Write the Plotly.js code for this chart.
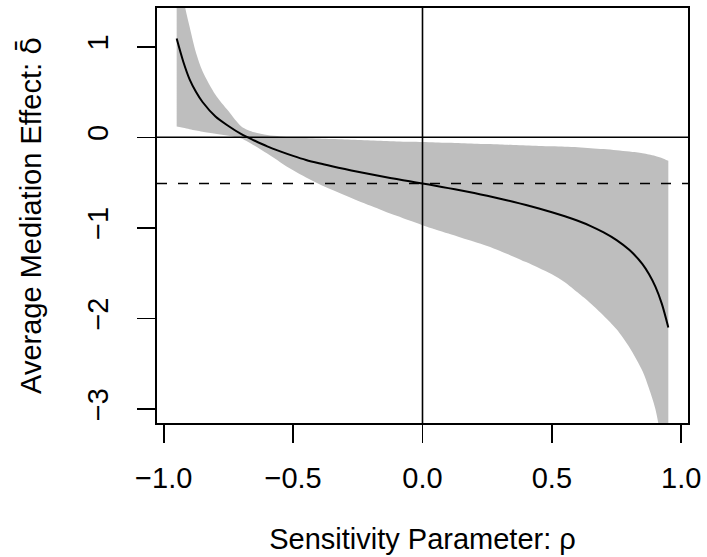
<!DOCTYPE html>
<html>
<head>
<meta charset="utf-8">
<script src="https://cdn.plot.ly/plotly-3.0.1.min.js"></script>
<style>html,body{margin:0;padding:0;background:#fff;}#plot{width:707px;height:557px;}</style>
</head>
<body>
<div id="plot"></div>
<script>
// Sensitivity parameter values
const rho = [-0.95,-0.925,-0.90,-0.875,-0.85,-0.80,-0.75,-0.70,-0.65,-0.60,-0.55,-0.50,-0.45,-0.40,-0.35,-0.30,-0.25,-0.20,-0.15,-0.10,-0.05,0.00,
             0.05,0.10,0.15,0.20,0.25,0.30,0.35,0.40,0.45,0.50,0.55,0.60,0.65,0.70,0.75,0.80,0.85,0.875,0.90,0.925,0.95];
// Average mediation effect estimate
const delta = [1.09,0.84,0.64,0.50,0.39,0.23,0.125,0.035,-0.035,-0.10,-0.155,-0.205,-0.25,-0.287,-0.32,-0.351,-0.381,-0.409,-0.436,-0.461,-0.486,-0.51,
               -0.535,-0.561,-0.588,-0.616,-0.646,-0.678,-0.712,-0.748,-0.786,-0.827,-0.872,-0.922,-0.98,-1.05,-1.135,-1.245,-1.40,-1.51,-1.65,-1.84,-2.10];
// Confidence band
const upper = [2.30,1.55,1.22,0.93,0.73,0.47,0.29,0.12,0.055,0.025,0.01,0.0,-0.007,-0.014,-0.02,-0.025,-0.03,-0.035,-0.04,-0.045,-0.05,-0.052,
               -0.056,-0.06,-0.065,-0.07,-0.075,-0.08,-0.085,-0.09,-0.095,-0.10,-0.105,-0.11,-0.12,-0.13,-0.143,-0.158,-0.177,-0.19,-0.206,-0.228,-0.26];
const lower = [0.12,0.105,0.09,0.075,0.062,0.04,0.018,-0.012,-0.09,-0.18,-0.275,-0.365,-0.445,-0.515,-0.58,-0.64,-0.70,-0.757,-0.813,-0.867,-0.92,-0.97,
               -1.018,-1.063,-1.108,-1.153,-1.20,-1.255,-1.315,-1.378,-1.443,-1.513,-1.60,-1.715,-1.835,-1.97,-2.12,-2.32,-2.58,-2.77,-3.00,-3.40,-4.20];
// Reference lines
const zeroLevel = 0;
const rhoZero = 0;
const estimateAtZero = -0.51;
// Tick labels
const xTicks = [-1.0,-0.5,0.0,0.5,1.0];
const xTickText = ["\u22121.0","\u22120.5","0.0","0.5","1.0"];
const yTicks = [1,0,-1,-2,-3];
const yTickText = ["1","0","\u22121","\u22122","\u22123"];

const font = {family: "Liberation Sans, Arial, Helvetica, sans-serif", size: 29, color: "#000"};

const traces = [
  {x: rho, y: lower, type: "scatter", mode: "lines", line: {width: 0, color: "rgba(0,0,0,0)", shape: "spline", smoothing: 0.8}, hoverinfo: "skip", showlegend: false},
  {x: rho, y: upper, type: "scatter", mode: "lines", fill: "tonexty", fillcolor: "#BEBEBE", line: {width: 0, color: "rgba(0,0,0,0)", shape: "spline", smoothing: 0.8}, hoverinfo: "skip", showlegend: false},
  {x: rho, y: delta, type: "scatter", mode: "lines", line: {width: 2, color: "#000", shape: "spline", smoothing: 0.8}, showlegend: false}
];

const lw = 1.6;
const layout = {
  width: 707, height: 557,
  margin: {l: 157, r: 19, t: 8, b: 134, pad: 0},
  paper_bgcolor: "#fff", plot_bgcolor: "#fff",
  font: font,
  showlegend: false,
  xaxis: {
    range: [-1.026, 1.026], tickvals: xTicks, ticktext: xTickText,
    showgrid: false, zeroline: false, showline: true, mirror: true, linecolor: "#000", linewidth: lw,
    ticks: "outside", ticklen: 18, tickwidth: lw, tickcolor: "#000",
    tickfont: font, ticklabelstandoff: 11,
    title: {text: "Sensitivity Parameter: \u03C1", font: font, standoff: 35},
    automargin: false
  },
  yaxis: {
    range: [-3.155, 1.428], tickvals: yTicks, ticktext: yTickText, tickangle: -90,
    showgrid: false, zeroline: false, showline: true, mirror: true, linecolor: "#000", linewidth: lw,
    ticks: "outside", ticklen: 18, tickwidth: lw, tickcolor: "#000",
    tickfont: font, ticklabelstandoff: 18,
    title: {text: "Average Mediation Effect: <span style='font-family:DejaVu Sans'>\u03B4\u0304</span>", font: font, standoff: 31},
    automargin: false
  },
  shapes: [
    {type: "line", xref: "paper", x0: 0, x1: 1, yref: "y", y0: zeroLevel, y1: zeroLevel, line: {color: "#000", width: lw}, layer: "above"},
    {type: "line", xref: "x", x0: rhoZero, x1: rhoZero, yref: "paper", y0: 0, y1: 1, line: {color: "#000", width: lw}, layer: "above"},
    {type: "line", xref: "paper", x0: 0, x1: 1, yref: "y", y0: estimateAtZero, y1: estimateAtZero, line: {color: "#000", width: lw, dash: "10px,11px"}, layer: "above"}
  ]
};

Plotly.newPlot("plot", traces, layout, {staticPlot: true, displayModeBar: false});
</script>
</body>
</html>
